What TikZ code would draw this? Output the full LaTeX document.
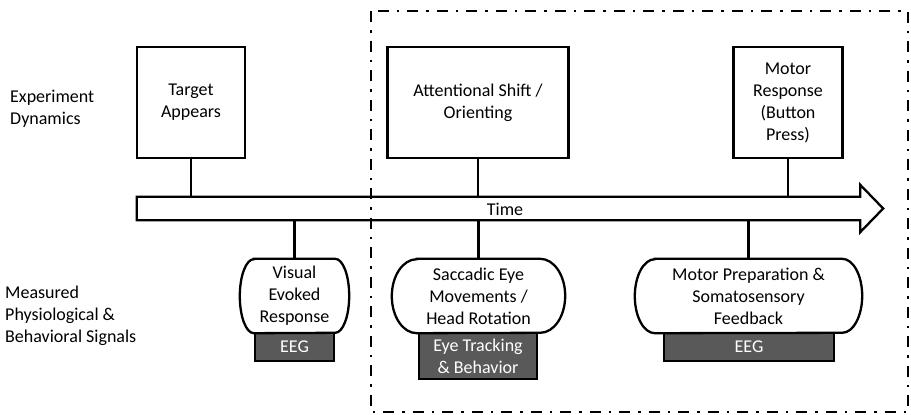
\documentclass[tikz,border=0pt]{standalone}
\usepackage{fontspec}
\setmainfont{Carlito}
\usetikzlibrary{calc}
\tikzset{
  txt/.style={font=\fontsize{18}{22}\selectfont, align=center, inner sep=0pt},
  outline/.style={draw=black, line width=2.3pt},
  event/.style={outline, txt, fill=white},
  capsule/.style={inner sep=0pt},
  tool/.style={outline, txt, fill=black!65, text=white},
  conn/.style={draw=black, line width=2.2pt},
  region/.style={draw=black, line width=2.5pt, dash pattern=on 11pt off 8pt on 2.5pt off 8pt},
}
\begin{document}
\begin{tikzpicture}[x=1pt, y=-1pt]
  \useasboundingbox (0,0) rectangle (911,415);

  % dash-dotted region around the later stages
  \draw[region] (371,11) rectangle (908,412);

  % row labels
  \node[txt, align=left, anchor=west] (rowtop) at (10,109) {Experiment\\Dynamics};
  \node[txt, align=left, anchor=west] (rowbot) at (5,316) {Measured\\Physiological \&\\Behavioral Signals};

  % experiment events
  \node[event, minimum width=108, minimum height=111] (target) at (191,102.5) {Target\\Appears};
  \node[event, minimum width=181, minimum height=111] (attn) at (478,102.5) {Attentional Shift /\\Orienting};
  \node[event, minimum width=109, minimum height=111] (motor) at (788,102.5) {Motor\\Response\\(Button\\Press)};

  % time arrow
  \node[minimum width=723, minimum height=23, inner sep=0pt] (shaft) at (498.5,208.5) {};
  \draw[outline, line join=miter] (shaft.north west) -- (shaft.north east) -- ++(0,-12)
      -- ($(shaft.east)+(23pt,0pt)$) -- ($(shaft.south east)+(0pt,-12pt)$)
      -- (shaft.south east) -- (shaft.south west) -- cycle;
  \node[txt] (timelbl) at (505,209) {Time};

  % measurement tools (drawn first so the capsules overlap them)
  \node[tool, minimum width=79, minimum height=28] (eegA) at (294.5,347) {EEG};
  \node[tool, minimum width=118, minimum height=46] (eye) at (478,356) {Eye Tracking\\\& Behavior};
  \node[tool, minimum width=170, minimum height=28] (eegB) at (749,347) {EEG};

  % measured signals: capsule outlines with elliptic ends
  \node[capsule, minimum width=109, minimum height=74] (vis) at (294.5,296) {};
  \node[capsule, minimum width=173, minimum height=74] (sacc) at (478.5,296) {};
  \node[capsule, minimum width=227, minimum height=74] (prep) at (748.5,296) {};

  \foreach \n/\r in {vis/14, sacc/25, prep/20}{
    \draw[outline, fill=white]
      ([xshift=\r pt]\n.north west) -- ([xshift=-\r pt]\n.north east)
      arc[start angle=90, end angle=-90, x radius=\r pt, y radius=37pt]
      -- ([xshift=\r pt]\n.south west)
      arc[start angle=270, end angle=90, x radius=\r pt, y radius=37pt] -- cycle;
  }
  \node[txt] (visT) at (vis) {Visual\\Evoked\\Response};
  \node[txt] (saccT) at (sacc) {Saccadic Eye\\Movements /\\Head Rotation};
  \node[txt] (prepT) at (prep) {Motor Preparation \&\\Somatosensory\\Feedback};

  % connectors to the time arrow
  \draw[conn] (target.south) -- (target.south |- shaft.north);
  \draw[conn] (attn.south) -- (attn.south |- shaft.north);
  \draw[conn] (motor.south) -- (motor.south |- shaft.north);
  \draw[conn] (vis.north) -- (vis.north |- shaft.south);
  \draw[conn] (sacc.north) -- (sacc.north |- shaft.south);
  \draw[conn] (prep.north) -- (prep.north |- shaft.south);
\end{tikzpicture}
\end{document}
